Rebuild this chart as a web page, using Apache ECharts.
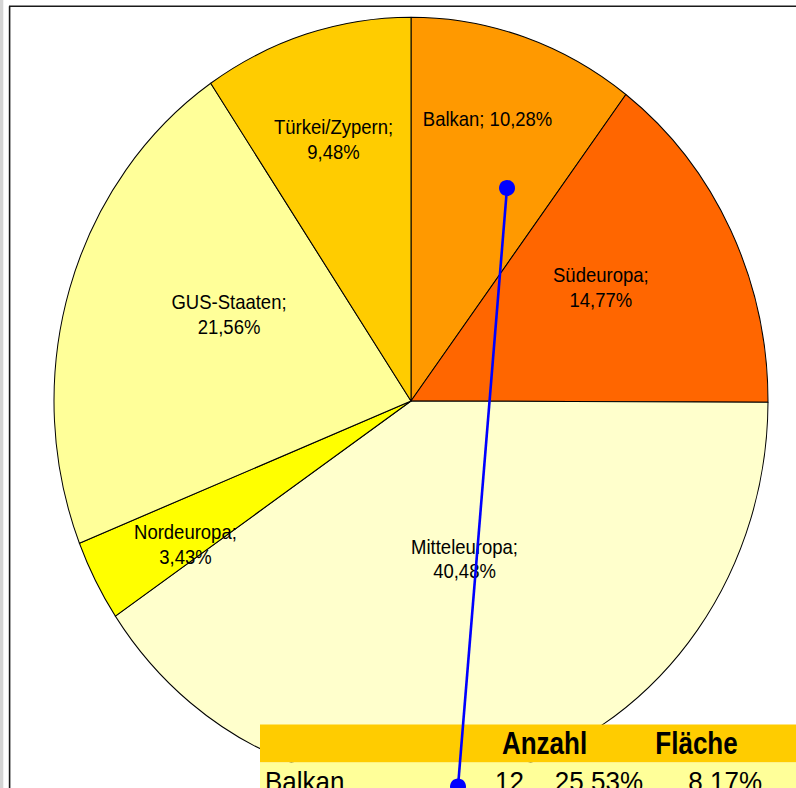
<!DOCTYPE html>
<html>
<head>
<meta charset="utf-8">
<title>Herkunftsregionen</title>
<script src="https://cdn.jsdelivr.net/npm/echarts@6/dist/echarts.min.js"></script>
<style>
  html, body { margin: 0; padding: 0; background: #ffffff; overflow: hidden; }
  #wrap { position: absolute; left: 0; top: 0; width: 796px; height: 788px; overflow: hidden; }
  /* the sheet is drawn at 796x733 and stretched to the window height */
  #chart { position: absolute; left: 0; top: 0; width: 796px; height: 733px;
           transform: scaleY(1.075034); transform-origin: 0 0; }
</style>
</head>
<body>
<div id="wrap"><div id="chart"></div></div>
<script>
// Regions, clockwise from twelve o'clock
const regions = ['Balkan', 'Südeuropa', 'Mitteleuropa', 'Nordeuropa', 'GUS-Staaten', 'Türkei/Zypern'];
const shares  = [10.28, 14.77, 40.48, 3.43, 21.56, 9.48];
const sliceColors = ['#FF9900', '#FF6600', '#FFFFCC', '#FFFF00', '#FFFF99', '#FFCC00'];

// Table under the pie
const tableHead = ['Anzahl', 'Fläche'];
const tableRow  = ['Balkan', '12', '25,53%', '8,17%'];

const S = 788 / 733;                 // vertical stretch of the sheet
const sy = v => v / S;               // window y -> sheet y
const CX = 411, CY = sy(401), R = 357;

// label anchor: fraction of the radius and angular nudge (deg) per slice
const labelSpots = [[0.764, -2.2], [0.608, -2.6], [0.439, -3.0], [0.735, -2.8], [0.557, 6.7], [0.715, -0.6]];

const fmt = v => v.toFixed(2).replace('.', ',') + '%';
const total = shares.reduce((a, b) => a + b, 0);

const chart = echarts.init(document.getElementById('chart'), null, { renderer: 'svg', width: 796, height: 733 });

const FONT = '"Liberation Sans", Arial, sans-serif';

chart.setOption({
  animation: false,
  backgroundColor: '#ffffff',
  series: [{
    type: 'pie',
    center: [CX, CY],
    radius: R,
    startAngle: 90,
    clockwise: true,
    avoidLabelOverlap: false,
    silent: true,
    emphasis: { disabled: true },
    itemStyle: { borderColor: '#000000', borderWidth: 1 },
    label: {
      show: true,
      position: 'inside',
      color: '#000000',
      fontFamily: FONT,
      fontSize: 18.5,
      lineHeight: 23,
      align: 'center',
      formatter: p => p.name === 'Balkan' ? p.name + '; ' + fmt(p.value) : p.name + ';\n' + fmt(p.value)
    },
    labelLine: { show: false },
    labelLayout: function (p) {
      const i = p.dataIndex;
      let before = 0;
      for (let k = 0; k < i; k++) before += shares[k];
      const mid = (before + shares[i] / 2) / total * 360 + labelSpots[i][1];
      const a = mid * Math.PI / 180;
      const r = labelSpots[i][0] * R;
      return { x: CX + r * Math.sin(a), y: CY - r * Math.cos(a), align: 'center', verticalAlign: 'middle' };
    },
    data: regions.map((n, i) => ({ name: n, value: shares[i], itemStyle: { color: sliceColors[i] } }))
  }],
  graphic: [
    // sheet edge and frame
    { type: 'rect', z: 50, shape: { x: 0, y: 0, width: 3.3, height: 733 }, style: { fill: '#d4d4d4' } },
    { type: 'line', z: 50, shape: { x1: 9.6, y1: sy(6.3), x2: 9.6, y2: 733 }, style: { stroke: '#1a1a1a', lineWidth: 1.6 } },
    { type: 'line', z: 50, shape: { x1: 9, y1: sy(6.3), x2: 796, y2: sy(6.3) }, style: { stroke: '#1a1a1a', lineWidth: 1.5 } },

    // table
    { type: 'rect', z: 60, shape: { x: 260, y: sy(724.5), width: 536, height: sy(762.5) - sy(724.5) }, style: { fill: '#FFCC00' } },
    { type: 'rect', z: 60, shape: { x: 260, y: sy(762.5), width: 536, height: 733 - sy(762.5) }, style: { fill: '#FFFF99' } },
    { type: 'text', z: 61, x: 544.5, y: sy(743.4), scaleY: 1.14, originX: 0, originY: 0,
      style: { text: tableHead[0], font: 'bold 26px ' + FONT, fill: '#000', align: 'center', verticalAlign: 'middle' } },
    { type: 'text', z: 61, x: 696.5, y: sy(743.4), scaleY: 1.14, originX: 0, originY: 0,
      style: { text: tableHead[1], font: 'bold 26px ' + FONT, fill: '#000', align: 'center', verticalAlign: 'middle' } },
    { type: 'text', z: 61, x: 265, y: sy(781.5),
      style: { text: tableRow[0], font: '26px ' + FONT, fill: '#000', align: 'left', verticalAlign: 'middle' } },
    { type: 'text', z: 61, x: 524, y: sy(781.5),
      style: { text: tableRow[1], font: '26px ' + FONT, fill: '#000', align: 'right', verticalAlign: 'middle' } },
    { type: 'text', z: 61, x: 643, y: sy(781.5),
      style: { text: tableRow[2], font: '26px ' + FONT, fill: '#000', align: 'right', verticalAlign: 'middle' } },
    { type: 'text', z: 61, x: 762, y: sy(781.5),
      style: { text: tableRow[3], font: '26px ' + FONT, fill: '#000', align: 'right', verticalAlign: 'middle' } },

    // pointer from the Balkan slice to its table row
    { type: 'line', z: 70, shape: { x1: 507, y1: sy(188), x2: 458, y2: sy(786.5) }, style: { stroke: '#0000FF', lineWidth: 2.6 } },
    { type: 'ellipse', z: 71, shape: { cx: 507, cy: sy(188), rx: 8, ry: 8 / S }, style: { fill: '#0000FF' } },
    { type: 'ellipse', z: 71, shape: { cx: 458, cy: sy(786.5), rx: 8, ry: 8 / S }, style: { fill: '#0000FF' } }
  ]
});
</script>
</body>
</html>
